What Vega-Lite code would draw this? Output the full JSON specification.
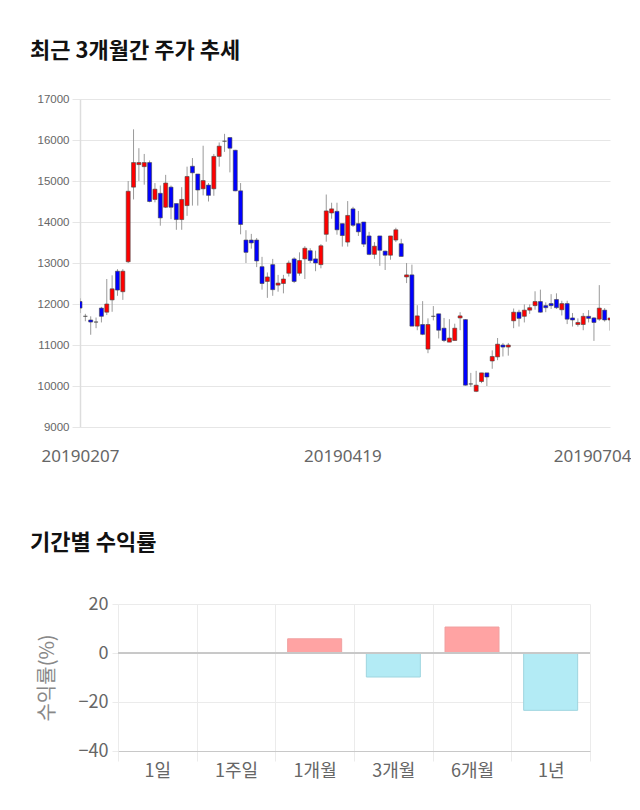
{
  "$schema": "https://vega.github.io/schema/vega-lite/v6.json",
  "background": "white",
  "padding": {"left": 30, "top": 40, "right": 0, "bottom": 0},
  "spacing": 68,
  "config": {"view": {"stroke": null}},
  "vconcat": [
    {
      "width": 530,
      "height": 328,
      "title": {"text": "최근 3개월간 주가 추세", "anchor": "start", "frame": "group", "dx": -50, "font": "Noto Sans CJK KR", "fontSize": 22, "fontWeight": "bold", "color": "#111111", "offset": 30},
      "data": {"values": [
        {"date": "20190207", "open": 12060, "high": 12140, "low": 11780, "close": 11900},
        {"date": "20190208", "open": 11700, "high": 11760, "low": 11580, "close": 11700},
        {"date": "20190211", "open": 11610, "high": 11700, "low": 11250, "close": 11560},
        {"date": "20190212", "open": 11560, "high": 11670, "low": 11410, "close": 11560},
        {"date": "20190213", "open": 11900, "high": 11930, "low": 11550, "close": 11700},
        {"date": "20190214", "open": 11800, "high": 12610, "low": 11730, "close": 12000},
        {"date": "20190215", "open": 12100, "high": 12700, "low": 11810, "close": 12370},
        {"date": "20190218", "open": 12800, "high": 12850, "low": 12200, "close": 12340},
        {"date": "20190219", "open": 12300, "high": 12850, "low": 12100, "close": 12800},
        {"date": "20190220", "open": 13030, "high": 15000, "low": 13000, "close": 14750},
        {"date": "20190221", "open": 14850, "high": 16260, "low": 14550, "close": 15450},
        {"date": "20190222", "open": 15400, "high": 15800, "low": 15000, "close": 15450},
        {"date": "20190225", "open": 15350, "high": 15660, "low": 14910, "close": 15450},
        {"date": "20190226", "open": 15450, "high": 15500, "low": 14480, "close": 14500},
        {"date": "20190227", "open": 14550, "high": 14950, "low": 14480, "close": 14800},
        {"date": "20190228", "open": 14700, "high": 14890, "low": 13910, "close": 14100},
        {"date": "20190304", "open": 14360, "high": 15150, "low": 14340, "close": 14950},
        {"date": "20190305", "open": 14850, "high": 14890, "low": 14070, "close": 14360},
        {"date": "20190307", "open": 14450, "high": 14450, "low": 13810, "close": 14060},
        {"date": "20190308", "open": 14060, "high": 14850, "low": 13810, "close": 14550},
        {"date": "20190311", "open": 14400, "high": 15350, "low": 14150, "close": 15110},
        {"date": "20190312", "open": 15360, "high": 15560, "low": 14400, "close": 15200},
        {"date": "20190313", "open": 15170, "high": 15170, "low": 14400, "close": 14780},
        {"date": "20190314", "open": 14810, "high": 15860, "low": 14650, "close": 15010},
        {"date": "20190315", "open": 14900, "high": 14950, "low": 14500, "close": 14650},
        {"date": "20190318", "open": 14810, "high": 15660, "low": 14640, "close": 15600},
        {"date": "20190319", "open": 15600, "high": 15940, "low": 15350, "close": 15850},
        {"date": "20190320", "open": 15970, "high": 16150, "low": 15710, "close": 15970},
        {"date": "20190321", "open": 16060, "high": 16060, "low": 15210, "close": 15800},
        {"date": "20190322", "open": 15750, "high": 15760, "low": 14750, "close": 14760},
        {"date": "20190325", "open": 14760, "high": 14950, "low": 13700, "close": 13940},
        {"date": "20190326", "open": 13560, "high": 13800, "low": 13000, "close": 13260},
        {"date": "20190327", "open": 13560, "high": 13710, "low": 13350, "close": 13490},
        {"date": "20190328", "open": 13560, "high": 13610, "low": 12900, "close": 13050},
        {"date": "20190329", "open": 12910, "high": 13150, "low": 12350, "close": 12500},
        {"date": "20190401", "open": 12550, "high": 12770, "low": 12150, "close": 12660},
        {"date": "20190402", "open": 12960, "high": 13100, "low": 12200, "close": 12350},
        {"date": "20190403", "open": 12460, "high": 12710, "low": 12300, "close": 12510},
        {"date": "20190404", "open": 12500, "high": 12710, "low": 12260, "close": 12610},
        {"date": "20190405", "open": 12750, "high": 13060, "low": 12670, "close": 13000},
        {"date": "20190408", "open": 13100, "high": 13140, "low": 12510, "close": 12550},
        {"date": "20190409", "open": 12750, "high": 13260, "low": 12690, "close": 13060},
        {"date": "20190410", "open": 13100, "high": 13410, "low": 12610, "close": 13360},
        {"date": "20190411", "open": 13300, "high": 13360, "low": 13000, "close": 13060},
        {"date": "20190412", "open": 13100, "high": 13300, "low": 12800, "close": 13000},
        {"date": "20190415", "open": 12960, "high": 13460, "low": 12870, "close": 13420},
        {"date": "20190416", "open": 13700, "high": 14670, "low": 13520, "close": 14270},
        {"date": "20190417", "open": 14220, "high": 14470, "low": 14080, "close": 14320},
        {"date": "20190418", "open": 14260, "high": 14470, "low": 13690, "close": 13810},
        {"date": "20190419", "open": 13960, "high": 13960, "low": 13400, "close": 13670},
        {"date": "20190422", "open": 13510, "high": 14510, "low": 13400, "close": 14160},
        {"date": "20190423", "open": 14320, "high": 14370, "low": 13880, "close": 13920},
        {"date": "20190424", "open": 13960, "high": 14270, "low": 13660, "close": 13760},
        {"date": "20190425", "open": 14000, "high": 14000, "low": 13390, "close": 13460},
        {"date": "20190426", "open": 13660, "high": 13760, "low": 13190, "close": 13210},
        {"date": "20190429", "open": 13210, "high": 13510, "low": 13100, "close": 13410},
        {"date": "20190430", "open": 13660, "high": 13660, "low": 12930, "close": 13310},
        {"date": "20190502", "open": 13290, "high": 13300, "low": 12830, "close": 13190},
        {"date": "20190503", "open": 13190, "high": 13660, "low": 13080, "close": 13660},
        {"date": "20190507", "open": 13560, "high": 13860, "low": 13510, "close": 13810},
        {"date": "20190508", "open": 13470, "high": 13590, "low": 13160, "close": 13160},
        {"date": "20190509", "open": 12660, "high": 13000, "low": 12510, "close": 12710},
        {"date": "20190510", "open": 12710, "high": 12960, "low": 11460, "close": 11460},
        {"date": "20190513", "open": 11460, "high": 11970, "low": 11360, "close": 11710},
        {"date": "20190514", "open": 11500, "high": 12070, "low": 11240, "close": 11260},
        {"date": "20190515", "open": 10900, "high": 11650, "low": 10800, "close": 11500},
        {"date": "20190516", "open": 11700, "high": 11950, "low": 11600, "close": 11700},
        {"date": "20190517", "open": 11760, "high": 11760, "low": 11160, "close": 11360},
        {"date": "20190520", "open": 11410, "high": 11660, "low": 11070, "close": 11110},
        {"date": "20190521", "open": 11070, "high": 11630, "low": 11070, "close": 11170},
        {"date": "20190522", "open": 11110, "high": 11520, "low": 11110, "close": 11410},
        {"date": "20190523", "open": 11660, "high": 11800, "low": 11360, "close": 11710},
        {"date": "20190524", "open": 11620, "high": 11630, "low": 10010, "close": 10020},
        {"date": "20190527", "open": 10050, "high": 10320, "low": 9980, "close": 10050},
        {"date": "20190528", "open": 9870, "high": 10370, "low": 9850, "close": 10020},
        {"date": "20190529", "open": 10110, "high": 10320, "low": 10070, "close": 10320},
        {"date": "20190530", "open": 10320, "high": 10320, "low": 10000, "close": 10220},
        {"date": "20190531", "open": 10610, "high": 10870, "low": 10420, "close": 10720},
        {"date": "20190603", "open": 10710, "high": 11170, "low": 10630, "close": 11020},
        {"date": "20190604", "open": 11000, "high": 11050, "low": 10720, "close": 10950},
        {"date": "20190605", "open": 10950, "high": 11050, "low": 10740, "close": 11000},
        {"date": "20190607", "open": 11590, "high": 11890, "low": 11410, "close": 11800},
        {"date": "20190610", "open": 11800, "high": 11860, "low": 11450, "close": 11650},
        {"date": "20190611", "open": 11700, "high": 11990, "low": 11550, "close": 11850},
        {"date": "20190612", "open": 11850, "high": 11990, "low": 11760, "close": 11910},
        {"date": "20190614", "open": 11960, "high": 12310, "low": 11860, "close": 12060},
        {"date": "20190617", "open": 12060, "high": 12350, "low": 11790, "close": 11800},
        {"date": "20190618", "open": 11960, "high": 12040, "low": 11800, "close": 11910},
        {"date": "20190619", "open": 12010, "high": 12240, "low": 11880, "close": 11960},
        {"date": "20190620", "open": 12110, "high": 12260, "low": 11880, "close": 11910},
        {"date": "20190621", "open": 11860, "high": 12080, "low": 11720, "close": 12010},
        {"date": "20190624", "open": 12010, "high": 12080, "low": 11510, "close": 11630},
        {"date": "20190625", "open": 11660, "high": 11780, "low": 11450, "close": 11610},
        {"date": "20190626", "open": 11500, "high": 11650, "low": 11450, "close": 11550},
        {"date": "20190627", "open": 11500, "high": 11780, "low": 11360, "close": 11700},
        {"date": "20190628", "open": 11700, "high": 11850, "low": 11550, "close": 11650},
        {"date": "20190701", "open": 11660, "high": 11680, "low": 11100, "close": 11550},
        {"date": "20190702", "open": 11630, "high": 12460, "low": 11590, "close": 11900},
        {"date": "20190703", "open": 11850, "high": 11900, "low": 11570, "close": 11610},
        {"date": "20190704", "open": 11610, "high": 11660, "low": 11350, "close": 11660}
      ]},
      "encoding": {
        "x": {
          "field": "date", "type": "ordinal", "sort": null,
          "scale": {"type": "point", "padding": 0},
          "axis": {
            "values": ["20190207", "20190419", "20190704"],
            "title": null, "labelAngle": 0, "ticks": false, "domain": false, "grid": false,
            "labelFont": "Noto Sans", "labelFontSize": 17, "labelColor": "#666666", "labelPadding": 21,
            "labelAlign": {"condition": {"test": "datum.value == '20190704'", "value": "right"}, "value": "center"},
            "labelOffset": {"condition": {"test": "datum.value == '20190704'", "value": 21}, "value": 0}
          }
        }
      },
      "layer": [
        {
          "mark": {"type": "rule", "color": "#9a9a9a", "strokeWidth": 1, "clip": true},
          "encoding": {
            "y": {
              "field": "low", "type": "quantitative",
              "scale": {"domain": [9000, 17000], "nice": false, "zero": false},
              "axis": {
                "values": [9000, 10000, 11000, 12000, 13000, 14000, 15000, 16000, 17000],
                "format": "d", "title": null, "grid": true, "gridColor": "#e6e6e6",
                "ticks": true, "tickColor": "#e6e6e6", "tickSize": 8,
                "domain": true, "domainColor": "#dddddd", "domainWidth": 1.5,
                "labelFont": "Liberation Sans", "labelFontSize": 11.5, "labelColor": "#666666", "labelPadding": 3,
                "minExtent": 44, "maxExtent": 44
              }
            },
            "y2": {"field": "high"}
          }
        },
        {
          "mark": {"type": "bar", "size": 4, "stroke": "#444444", "strokeWidth": 0.6, "clip": true},
          "encoding": {
            "y": {"field": "open", "type": "quantitative"},
            "y2": {"field": "close"},
            "color": {
              "condition": [
                {"test": "datum.close > datum.open", "value": "#ff0000"},
                {"test": "datum.close < datum.open", "value": "#0000ff"}
              ],
              "value": "#666666"
            }
          }
        }
      ]
    },
    {
      "width": 510,
      "height": 147,
      "title": {"text": "기간별 수익률", "anchor": "start", "frame": "group", "dx": -50, "font": "Noto Sans CJK KR", "fontSize": 22, "fontWeight": "bold", "color": "#111111", "offset": 40},
      "data": {"values": [
        {"period": "1일", "ret": 0},
        {"period": "1주일", "ret": 0},
        {"period": "1개월", "ret": 5.8},
        {"period": "3개월", "ret": -9.8},
        {"period": "6개월", "ret": 10.6},
        {"period": "1년", "ret": -23.4}
      ]},
      "layer": [
        {
          "mark": {"type": "bar", "size": 54, "strokeWidth": 1},
          "encoding": {
            "x": {
              "field": "period", "type": "ordinal", "sort": null,
              "scale": {"type": "band", "paddingInner": 0, "paddingOuter": 0, "range": [38, 510]},
              "axis": {
                "title": null, "labelAngle": 0, "tickBand": "extent",
                "grid": true, "gridColor": "#ebebeb", "ticks": true, "tickColor": "#ebebeb", "tickSize": 10,
                "domain": true, "domainColor": "#c8c8c8",
                "labelFont": "Noto Sans CJK KR", "labelFontSize": 18, "labelColor": "#666666", "labelPadding": 1
              }
            },
            "y": {
              "field": "ret", "type": "quantitative",
              "scale": {"domain": [-40, 20], "nice": false},
              "axis": {
                "values": [-40, -20, 0, 20], "title": "수익률(%)", "offset": -38,
                "grid": true, "gridColor": "#ebebeb", "ticks": true, "tickColor": "#ebebeb", "tickSize": 6,
                "domain": false,
                "labelFont": "Noto Sans CJK KR", "labelFontSize": 18, "labelColor": "#666666", "labelPadding": 4,
                "titleFont": "Noto Sans CJK KR", "titleFontSize": 20, "titleFontWeight": "normal", "titleColor": "#888888", "titlePadding": 21
              }
            },
            "fill": {
              "condition": [
                {"test": "datum.ret > 0", "value": "#ffa3a3"},
                {"test": "datum.ret < 0", "value": "#b3ebf5"}
              ],
              "value": "transparent"
            },
            "stroke": {
              "condition": [
                {"test": "datum.ret > 0", "value": "#f0a0a0"},
                {"test": "datum.ret < 0", "value": "#9ed5df"}
              ],
              "value": "transparent"
            }
          }
        },
        {
          "mark": {"type": "rule", "color": "#c8c8c8", "strokeWidth": 1},
          "encoding": {"y": {"datum": 0, "type": "quantitative"}, "x": {"datum": "1일", "type": "ordinal", "bandPosition": 0}, "x2": {"datum": "1년", "type": "ordinal", "bandPosition": 1}}
        }
      ]
    }
  ]
}
